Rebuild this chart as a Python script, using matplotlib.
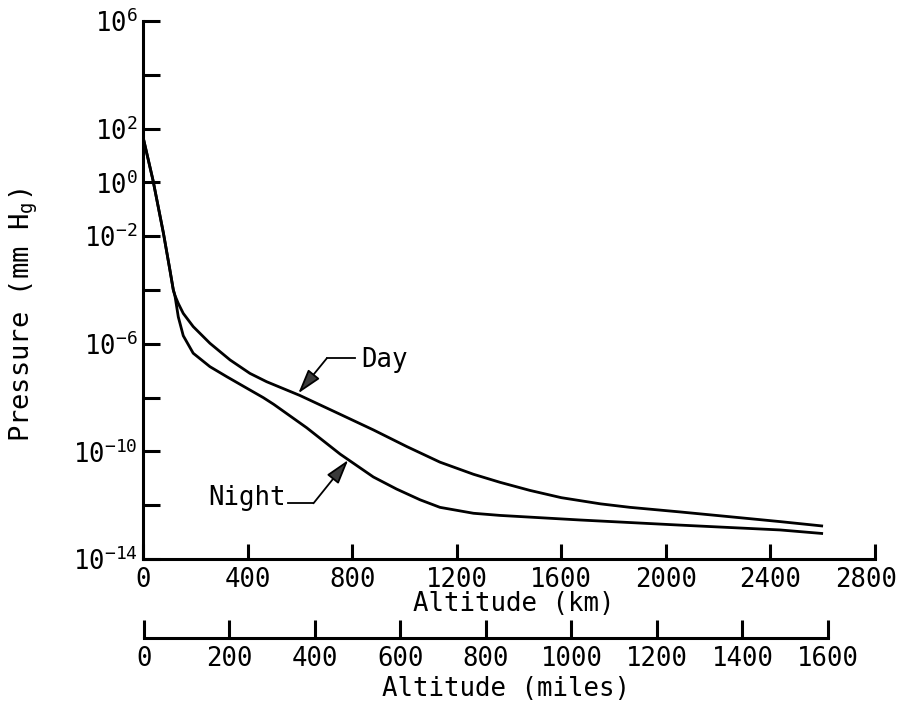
import numpy as np
import matplotlib.pyplot as plt
from matplotlib.ticker import FixedLocator, FixedFormatter
from matplotlib.transforms import ScaledTranslation

plt.rcParams['font.family'] = ['DejaVu Sans Mono']
plt.rcParams['mathtext.default'] = 'regular'

# altitude (km) and log10 of pressure (mm Hg)
day_km = [1, 38, 78, 103, 116, 122, 135, 154, 192, 256, 333, 409, 473, 600,
          754, 881, 1009, 1136, 1264, 1366, 1480, 1600, 1750, 1863, 2054,
          2246, 2437, 2596]
day_logp = [1.65, 0.09, -1.88, -3.26, -4.0, -4.2, -4.5, -4.87, -5.36, -5.98,
            -6.60, -7.10, -7.41, -7.92, -8.62, -9.20, -9.82, -10.40, -10.85,
            -11.15, -11.45, -11.72, -11.95, -12.08, -12.25, -12.43, -12.61, -12.77]

night_km = [1, 38, 78, 103, 116, 122, 135, 154, 192, 256, 320, 397, 460, 500,
            626, 754, 881, 970, 1060, 1136, 1264, 1366, 1672, 2054, 2437, 2596]
night_logp = [1.65, 0.09, -1.88, -3.26, -4.0, -4.2, -5.0, -5.70, -6.35, -6.85,
              -7.22, -7.65, -8.00, -8.25, -9.12, -10.10, -10.95, -11.40, -11.80,
              -12.08, -12.30, -12.38, -12.55, -12.74, -12.92, -13.05]

km_ticks = [0, 400, 800, 1200, 1600, 2000, 2400, 2800]
mile_ticks = [0, 200, 400, 600, 800, 1000, 1200, 1400, 1600]
p_exps = [6, 4, 2, 0, -2, -4, -6, -8, -10, -12, -14]
p_labeled = [6, 2, 0, -2, -6, -10, -14]

FS = 18.5
LW = 2.0
W, H = 904, 706

fig = plt.figure(figsize=(W / 100, H / 100), dpi=100)
ax = fig.add_axes([143/W, 1 - 559/H, 732/W, 538/H])

ax.semilogy(day_km, 10.0 ** np.array(day_logp), color='black', lw=LW)
ax.semilogy(night_km, 10.0 ** np.array(night_logp), color='black', lw=LW)

ax.set_xlim(0, 2800)
ax.set_ylim(1e-14, 1e6)
for s in ['top', 'right']:
    ax.spines[s].set_visible(False)
for s in ['left', 'bottom']:
    ax.spines[s].set_linewidth(2.2)

ax.yaxis.set_major_locator(FixedLocator([10.0 ** e for e in p_exps]))
ax.yaxis.set_major_formatter(FixedFormatter(
    ['10$^{%d}$' % e if e in p_labeled else '' for e in p_exps]))
ax.yaxis.set_minor_locator(FixedLocator([]))
ax.set_xticks(km_ticks)
ax.set_xticklabels([str(t) for t in km_ticks])
ax.tick_params(axis='both', direction='in', width=2.2, labelsize=FS)
ax.tick_params(axis='y', length=12, pad=4)
ax.tick_params(axis='x', length=11, pad=6)

# last km label sits a little left of its tick, as in the original
last = ax.get_xticklabels()[-1]
last.set_transform(last.get_transform() + ScaledTranslation(-9/100, 0, fig.dpi_scale_trans))

ax.set_xlabel('Altitude (km)', fontsize=FS)
ax.xaxis.set_label_coords(514/W, 1 - 604/H, transform=fig.transFigure)
ax.xaxis.label.set_va('center')
ax.set_ylabel('Pressure (mm H$_g$)', fontsize=19.5, va='center', ha='center')
ax.yaxis.set_label_coords(24/W, 1 - 315/H, transform=fig.transFigure)

# leaders for the curve labels
arrow_kw = dict(arrowstyle='-|>,head_length=1.5,head_width=0.45',
                color='black', fc='#3a3a3a', lw=1.3, shrinkA=0, shrinkB=0)
ax.plot([811, 703], [10 ** -6.54, 10 ** -6.54], color='black', lw=1.3)
ax.annotate('', xy=(594, 10 ** -7.84), xytext=(703, 10 ** -6.54), arrowprops=arrow_kw)
ax.text(835, 10 ** -6.6, 'Day', fontsize=FS, ha='left', va='center')

ax.plot([556, 652], [10 ** -11.93, 10 ** -11.93], color='black', lw=1.3)
ax.annotate('', xy=(785, 10 ** -10.32), xytext=(652, 10 ** -11.93), arrowprops=arrow_kw)
ax.text(545, 10 ** -11.75, 'Night', fontsize=FS, ha='right', va='center')

# second scale in miles
ax2 = fig.add_axes([144/W, 1 - 638/H, 684/W, 0.0005])
ax2.set_xlim(0, 1600)
ax2.set_yticks([])
for s in ['top', 'right', 'left']:
    ax2.spines[s].set_visible(False)
ax2.spines['bottom'].set_linewidth(2.2)
ax2.set_xticks(mile_ticks)
ax2.set_xticklabels([str(t) for t in mile_ticks])
ax2.tick_params(axis='x', direction='in', length=13, width=2.2, pad=6, labelsize=FS)
ax2.set_xlabel('Altitude (miles)', fontsize=FS)
ax2.xaxis.set_label_coords(506/W, 1 - 689/H, transform=fig.transFigure)
ax2.xaxis.label.set_va('center')

fig.savefig('out.png', dpi=100)
